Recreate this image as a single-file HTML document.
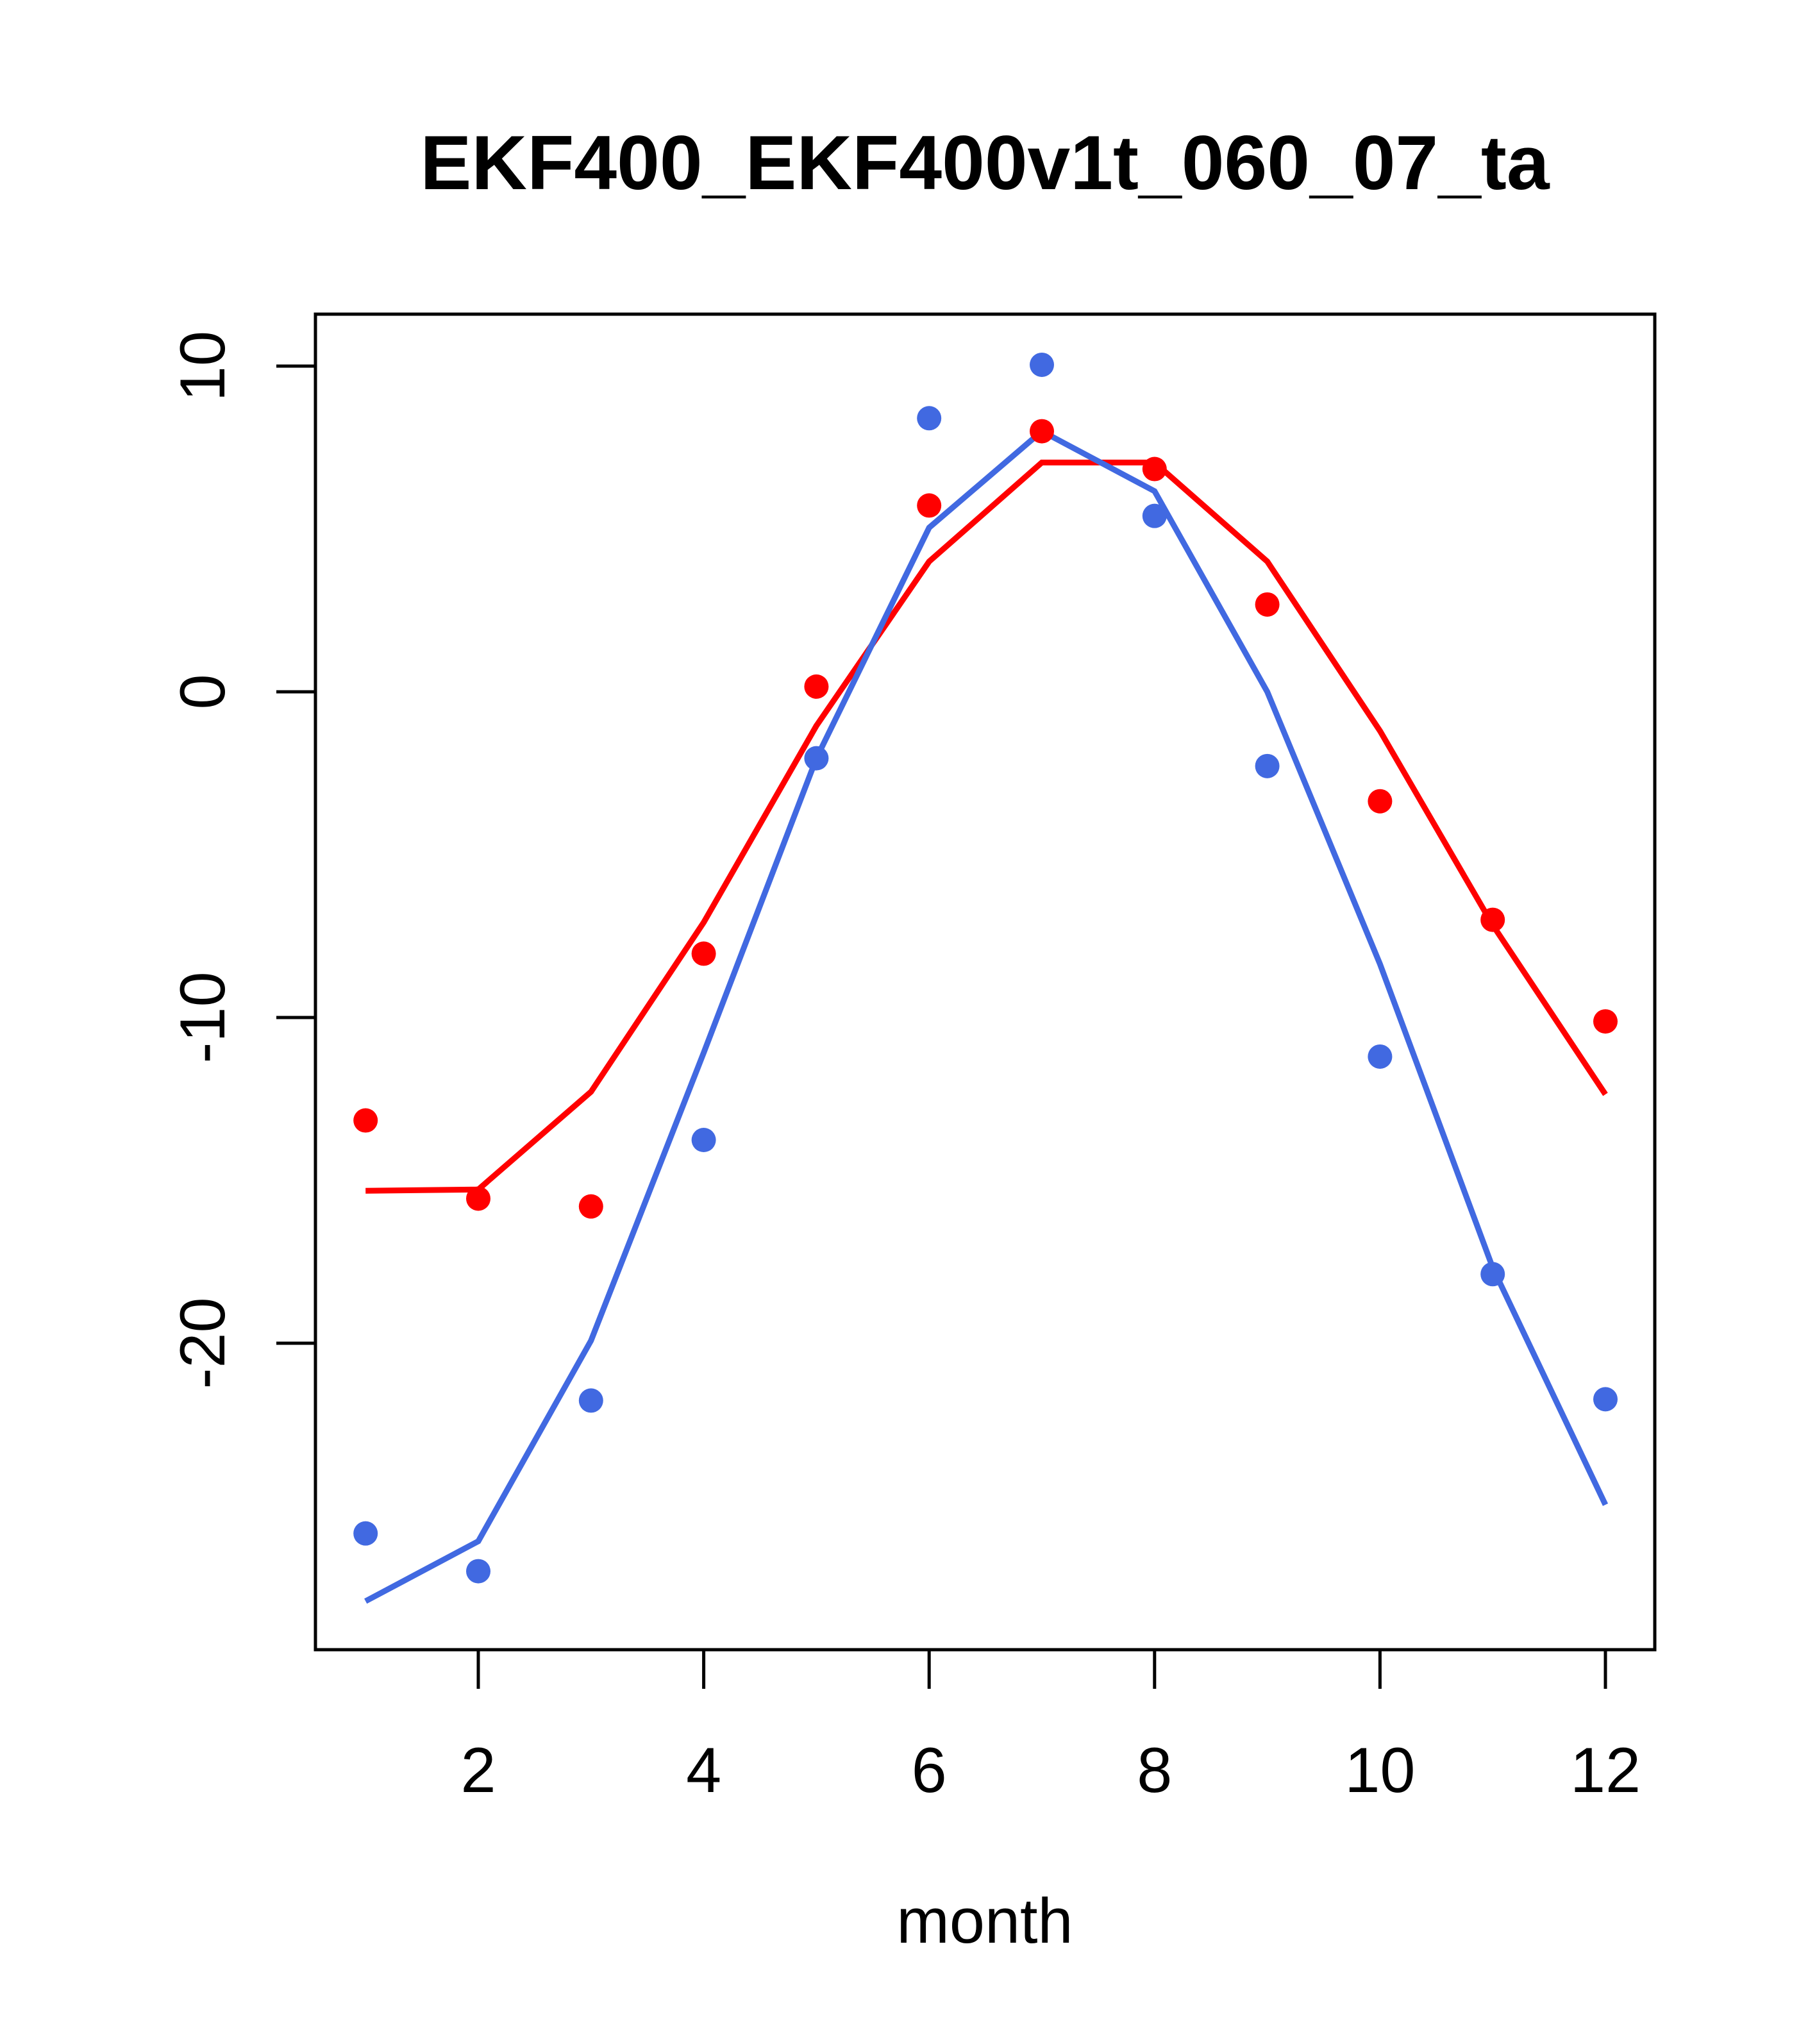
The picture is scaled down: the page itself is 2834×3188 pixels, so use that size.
<!DOCTYPE html>
<html><head><meta charset="utf-8"><style>html,body{margin:0;padding:0;background:#fff}svg{display:block}</style></head>
<body>
<svg id="chart" width="2834" height="3188" xmlns="http://www.w3.org/2000/svg" font-family="Liberation Sans, Arial, sans-serif">
<rect width="2834" height="3188" fill="#fff"/>
<text x="1536" y="295" text-anchor="middle" font-size="120" font-weight="bold">EKF400_EKF400v1t_060_07_ta</text>
<rect x="492" y="490" width="2089" height="2083" fill="none" stroke="#000" stroke-width="5"/>
<text x="1536" y="3030" text-anchor="middle" font-size="99">month</text>
<g id="xaxis"></g>
<g id="yaxis"></g>
<g id="series"></g>
</svg>
<script>
const months=[1,2,3,4,5,6,7,8,9,10,11,12];
const redPoints=[-13.16,-15.56,-15.8,-8.04,0.16,5.72,8.0,6.84,2.68,-3.36,-7.0,-10.12];
const redLine=[-15.32,-15.28,-12.28,-7.08,-1.04,4.0,7.04,7.04,4.0,-1.2,-7.16,-12.36];
const bluePoints=[-25.84,-27.0,-21.76,-13.76,-2.04,8.4,10.04,5.4,-2.28,-11.2,-17.88,-21.72];
const blueLine=[-27.92,-26.08,-19.92,-11.08,-2.04,5.04,8.0,6.16,0,-8.36,-17.68,-24.96];
const xTicks=[2,4,6,8,10,12];
const yTicks=[-20,-10,0,10];
const NS="http://www.w3.org/2000/svg";
function X(v){return 746+(v-2)*(2504-746)/10;}
function Y(v){return 1079-v*50.8;}
function mk(t,a,p){const e=document.createElementNS(NS,t);for(const k in a)e.setAttribute(k,a[k]);p.appendChild(e);return e;}
const xa=document.getElementById('xaxis'),ya=document.getElementById('yaxis'),s=document.getElementById('series');
mk('line',{x1:X(2),x2:X(12),y1:2573,y2:2573,stroke:'#000','stroke-width':5},xa);
xTicks.forEach(v=>{
 const l=mk('line',{x1:X(v),x2:X(v),y1:2573,y2:2634,stroke:'#000','stroke-width':5},xa);
 
 
 const t=mk('text',{x:X(v),y:2795,'text-anchor':'middle','font-size':99},xa);t.textContent=v;
 
 
});
yTicks.forEach(v=>{
 const l=mk('line',{x1:431,x2:492,y1:Y(v),y2:Y(v),stroke:'#000','stroke-width':5},ya);
 
 
 const t=mk('text',{x:0,y:0,'text-anchor':'middle','font-size':99,transform:`translate(350,${Y(v)}) rotate(-90)`},ya);t.textContent=v;
 
 
});
function line(arr,c,name){
 const p=mk('polyline',{points:arr.map((v,i)=>X(months[i])+','+Y(v)).join(' '),fill:'none',stroke:c,'stroke-width':9},s);
 
 
}
function pts(arr,c,name){
 arr.forEach((v,i)=>{const e=mk('circle',{cx:X(months[i]),cy:Y(v),r:19,fill:c},s);
 
 });
}
line(redLine,'#ff0000','red-line');
line(blueLine,'#4169e1','blue-line');
pts(redPoints,'#ff0000','red-point');
pts(bluePoints,'#4169e1','blue-point');
</script>
</body></html>
